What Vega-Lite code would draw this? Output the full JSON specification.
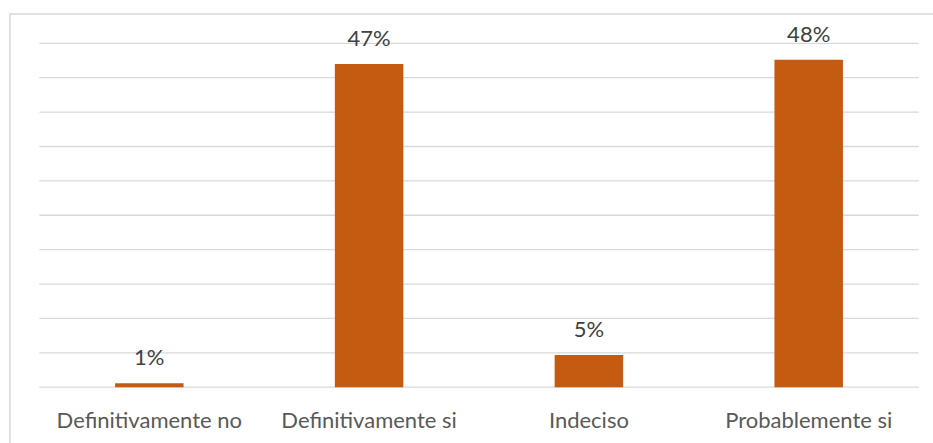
{
  "$schema": "https://vega.github.io/schema/vega-lite/v6.json",
  "autosize": "none",
  "padding": {"left": 10, "top": 14, "right": 0, "bottom": 0},
  "width": 938,
  "height": 442,
  "background": "white",
  "config": {
    "view": {"stroke": "#d9d9d9", "strokeWidth": 1.5},
    "font": "Lato"
  },
  "datasets": {
    "bars": [
      {"categoria": "Definitivamente no", "valor": 0.58, "etiqueta": "1%"},
      {"categoria": "Definitivamente si", "valor": 47.0, "etiqueta": "47%"},
      {"categoria": "Indeciso", "valor": 4.7, "etiqueta": "5%"},
      {"categoria": "Probablemente si", "valor": 47.6, "etiqueta": "48%"}
    ],
    "grid": [
      {"g": 0}, {"g": 5}, {"g": 10}, {"g": 15}, {"g": 20}, {"g": 25},
      {"g": 30}, {"g": 35}, {"g": 40}, {"g": 45}, {"g": 50}
    ]
  },
  "layer": [
    {
      "data": {"name": "grid"},
      "mark": {"type": "rule", "color": "#d9d9d9", "strokeWidth": 1.3},
      "encoding": {
        "y": {"field": "g", "type": "quantitative", "scale": {"domain": [-10, 54.26], "nice": false, "zero": false}, "axis": null},
        "x": {"datum": "Definitivamente no", "type": "nominal", "bandPosition": -1.106},
        "x2": {"datum": "Probablemente si", "bandPosition": 2.107}
      }
    },
    {
      "data": {"name": "bars"},
      "layer": [
        {
          "mark": {"type": "bar", "color": "#C55A11"},
          "encoding": {
            "x": {"field": "categoria", "type": "nominal", "sort": null},
            "y": {"field": "valor", "type": "quantitative"}
          }
        },
        {
          "mark": {"type": "text", "baseline": "alphabetic", "dy": -18, "fontSize": 22, "color": "#404040", "font": "Lato"},
          "encoding": {
            "x": {"field": "categoria", "type": "nominal", "sort": null},
            "y": {"field": "valor", "type": "quantitative"},
            "text": {"field": "etiqueta", "type": "nominal"}
          }
        }
      ]
    }
  ],
  "resolve": {"scale": {"x": "shared", "y": "shared"}},
  "encoding": {
    "x": {
      "field": "categoria",
      "type": "nominal",
      "sort": null,
      "scale": {
        "domain": ["Definitivamente no", "Definitivamente si", "Indeciso", "Probablemente si"],
        "paddingInner": 0.6884,
        "paddingOuter": 0.478
      },
      "axis": {
        "title": null,
        "orient": "bottom",
        "offset": -68.8,
        "domain": false,
        "ticks": false,
        "grid": false,
        "labelAngle": 0,
        "labelPadding": 40,
        "labelLimit": 0,
        "labelBaseline": "alphabetic",
        "labelFont": "Lato",
        "labelFontSize": 22,
        "labelColor": "#595959"
      }
    }
  }
}
